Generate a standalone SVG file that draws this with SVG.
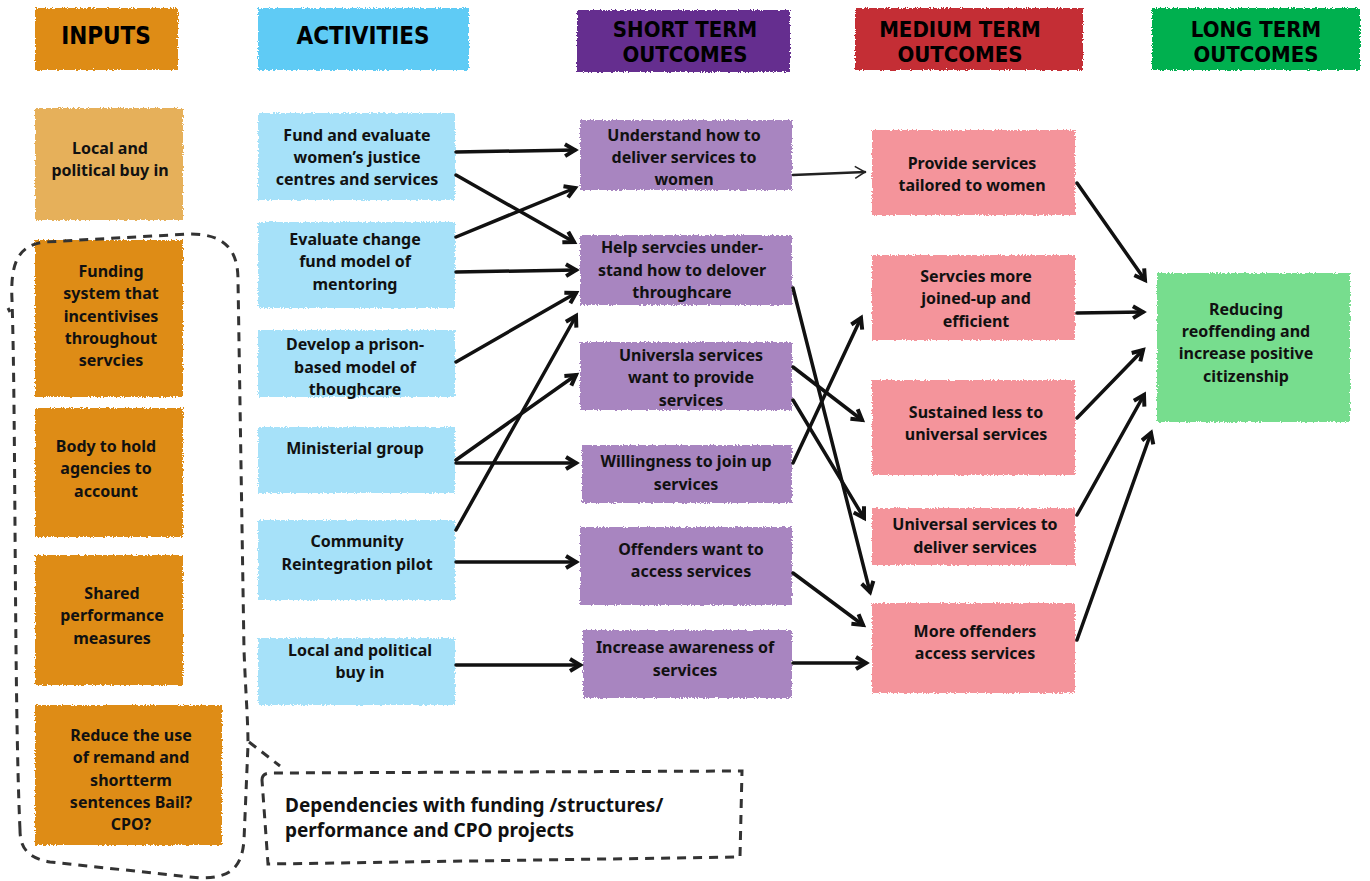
<svg xmlns="http://www.w3.org/2000/svg" width="1370" height="881" viewBox="0 0 1370 881">
<defs>
<filter id="rough" x="-5%" y="-5%" width="110%" height="110%">
<feTurbulence type="fractalNoise" baseFrequency="0.6" numOctaves="2" seed="3" result="n"/>
<feDisplacementMap in="SourceGraphic" in2="n" scale="4" xChannelSelector="R" yChannelSelector="G"/>
</filter>
<marker id="ah" markerUnits="userSpaceOnUse" markerWidth="18" markerHeight="18" refX="13" refY="8" orient="auto">
<path d="M3,2 L13,8 L3,14" fill="none" stroke="#111" stroke-width="4" stroke-linejoin="miter"/>
</marker>
<marker id="ahThin" markerUnits="userSpaceOnUse" markerWidth="18" markerHeight="18" refX="13" refY="8" orient="auto">
<path d="M3,2 L13,8 L3,14" fill="none" stroke="#222" stroke-width="1.5"/>
</marker>
</defs>
<style>
.hd{font-family:"DejaVu Sans Condensed","DejaVu Sans",sans-serif;font-weight:bold;font-size:24px;fill:#000;text-anchor:middle}
.hd2{font-family:"DejaVu Sans Condensed","DejaVu Sans",sans-serif;font-weight:bold;font-size:22px;fill:#000;text-anchor:middle}
.tx{font-family:"Noto Sans","Open Sans",sans-serif;font-weight:bold;font-size:16px;fill:#111;text-anchor:middle}
.dep{font-family:"Noto Sans","Open Sans",sans-serif;font-weight:bold;font-size:19px;fill:#111}
.box{filter:url(#rough)}
.inp{fill:#DE8C19}
.inpL{fill:#E6B05A}
.act{fill:#A6E1F9}
.st{fill:#A885C0}
.mt{fill:#F4949B}
.lt{fill:#77DD8E}
.ar{fill:none;stroke:#111;stroke-width:3.5;stroke-linecap:round;marker-end:url(#ah)}
.arThin{fill:none;stroke:#222;stroke-width:2.5;stroke-linecap:round;marker-end:url(#ahThin)}
.dash{fill:none;stroke:#333;stroke-width:3;stroke-dasharray:9,7}
</style>
<rect width="1370" height="881" fill="#fff"/>

<g id="headers">
<g id="h-inputs"><rect class="box" x="35" y="8" width="143" height="62" fill="#DE8C19"/><text class="hd" x="106" y="44">INPUTS</text></g>
<g id="h-activities"><rect class="box" x="258" y="8" width="211" height="62" fill="#5FCBF5"/><text class="hd" x="363" y="44">ACTIVITIES</text></g>
<g id="h-short"><rect class="box" x="577" y="10" width="213" height="62" fill="#652D8F"/><text class="hd2" x="685" y="37">SHORT TERM</text><text class="hd2" x="685" y="62">OUTCOMES</text></g>
<g id="h-medium"><rect class="box" x="855" y="8" width="228" height="62" fill="#C42D35"/><text class="hd2" x="960" y="37">MEDIUM TERM</text><text class="hd2" x="960" y="62">OUTCOMES</text></g>
<g id="h-long"><rect class="box" x="1152" y="8" width="208" height="62" fill="#00B050"/><text class="hd2" x="1256" y="37">LONG TERM</text><text class="hd2" x="1256" y="62">OUTCOMES</text></g>
</g>

<g id="in1"><rect class="box inpL" x="35" y="108" width="148" height="112"/><text class="tx" x="110" y="154">Local and</text><text class="tx" x="110" y="176">political buy in</text></g>
<g id="in2"><rect class="box inp" x="35" y="240" width="148" height="157"/><text class="tx" x="111" y="277">Funding</text><text class="tx" x="111" y="299">system that</text><text class="tx" x="111" y="322">incentivises</text><text class="tx" x="111" y="344">throughout</text><text class="tx" x="111" y="366">servcies</text></g>
<g id="in3"><rect class="box inp" x="35" y="408" width="148" height="129"/><text class="tx" x="106" y="452">Body  to hold</text><text class="tx" x="106" y="474">agencies to</text><text class="tx" x="106" y="497">account</text></g>
<g id="in4"><rect class="box inp" x="35" y="555" width="148" height="130"/><text class="tx" x="112" y="599">Shared</text><text class="tx" x="112" y="621">performance</text><text class="tx" x="112" y="644">measures</text></g>
<g id="in5"><rect class="box inp" x="35" y="705" width="187" height="140"/><text class="tx" x="131" y="741">Reduce the use</text><text class="tx" x="131" y="763">of remand and</text><text class="tx" x="131" y="786">shortterm</text><text class="tx" x="131" y="808">sentences Bail?</text><text class="tx" x="131" y="830">CPO?</text></g>

<g id="ac1"><rect class="box act" x="258" y="113" width="197" height="87"/><text class="tx" x="357" y="141">Fund and evaluate</text><text class="tx" x="357" y="163">women’s justice</text><text class="tx" x="357" y="185">centres and services</text></g>
<g id="ac2"><rect class="box act" x="258" y="222" width="197" height="86"/><text class="tx" x="355" y="245">Evaluate change</text><text class="tx" x="355" y="267">fund model of</text><text class="tx" x="355" y="290">mentoring</text></g>
<g id="ac3"><rect class="box act" x="258" y="330" width="197" height="67"/><text class="tx" x="355" y="350">Develop a prison-</text><text class="tx" x="355" y="373">based model of</text><text class="tx" x="355" y="395">thoughcare</text></g>
<g id="ac4"><rect class="box act" x="258" y="427" width="197" height="66"/><text class="tx" x="355" y="454">Ministerial group</text></g>
<g id="ac5"><rect class="box act" x="258" y="520" width="197" height="80"/><text class="tx" x="357" y="547">Community</text><text class="tx" x="357" y="570">Reintegration pilot</text></g>
<g id="ac6"><rect class="box act" x="258" y="638" width="197" height="67"/><text class="tx" x="360" y="656">Local and political</text><text class="tx" x="360" y="678">buy in</text></g>

<g id="st1"><rect class="box st" x="580" y="120" width="212" height="70"/><text class="tx" x="684" y="141">Understand how to</text><text class="tx" x="684" y="163">deliver services to</text><text class="tx" x="684" y="185">women</text></g>
<g id="st2"><rect class="box st" x="580" y="235" width="212" height="70"/><text class="tx" x="682" y="253">Help servcies under-</text><text class="tx" x="682" y="276">stand how to delover</text><text class="tx" x="682" y="298">throughcare</text></g>
<g id="st3"><rect class="box st" x="580" y="342" width="212" height="68"/><text class="tx" x="691" y="361">Universla services</text><text class="tx" x="691" y="383">want to provide</text><text class="tx" x="691" y="406">services</text></g>
<g id="st4"><rect class="box st" x="582" y="445" width="210" height="58"/><text class="tx" x="686" y="467">Willingness to join up</text><text class="tx" x="686" y="490">services</text></g>
<g id="st5"><rect class="box st" x="580" y="527" width="212" height="78"/><text class="tx" x="691" y="555">Offenders want to</text><text class="tx" x="691" y="577">access services</text></g>
<g id="st6"><rect class="box st" x="583" y="630" width="209" height="68"/><text class="tx" x="685" y="653">Increase awareness of</text><text class="tx" x="685" y="676">services</text></g>

<g id="mt1"><rect class="box mt" x="872" y="130" width="203" height="85"/><text class="tx" x="972" y="169">Provide services</text><text class="tx" x="972" y="191">tailored to women</text></g>
<g id="mt2"><rect class="box mt" x="872" y="255" width="203" height="85"/><text class="tx" x="976" y="282">Servcies more</text><text class="tx" x="976" y="304">joined-up and</text><text class="tx" x="976" y="327">efficient</text></g>
<g id="mt3"><rect class="box mt" x="872" y="380" width="203" height="95"/><text class="tx" x="976" y="418">Sustained less to</text><text class="tx" x="976" y="440">universal services</text></g>
<g id="mt4"><rect class="box mt" x="872" y="508" width="203" height="57"/><text class="tx" x="975" y="530">Universal services to</text><text class="tx" x="975" y="553">deliver services</text></g>
<g id="mt5"><rect class="box mt" x="872" y="603" width="203" height="90"/><text class="tx" x="975" y="637">More offenders</text><text class="tx" x="975" y="659">access services</text></g>

<g id="lt1"><rect class="box lt" x="1157" y="273" width="193" height="149"/><text class="tx" x="1246" y="315">Reducing</text><text class="tx" x="1246" y="337">reoffending and</text><text class="tx" x="1246" y="359">increase positive</text><text class="tx" x="1246" y="382">citizenship</text></g>

<g id="dependencies">
<path class="dash" d="M20,830 C14,700 16,420 12,300 C10,260 20,245 45,242 L190,234 C225,234 238,250 238,280 L244,650 C246,700 248,720 248,745 L244,840 C242,868 230,878 200,878 L50,862 C28,858 20,848 20,830 Z"/>
<path class="dash" d="M8,308 L10,312"/>
<path class="dash" d="M249,742 L280,766"/>
<path class="dash" d="M262,780 C262,774 266,773 272,773 L742,771 L740,857 L268,864 Z"/>
<text class="dep" x="285" y="812">Dependencies with funding /structures/</text>
<text class="dep" x="285" y="837">performance and CPO projects</text>
</g>

<g id="connectors">
<path class="ar" d="M456,152 L575,150"/>
<path class="ar" d="M456,175 L574,242"/>
<path class="ar" d="M456,237 L575,188"/>
<path class="ar" d="M456,272 L576,270"/>
<path class="ar" d="M456,362 L576,293"/>
<path class="ar" d="M456,530 L576,316"/>
<path class="ar" d="M456,460 L576,375"/>
<path class="ar" d="M456,463 L576,463"/>
<path class="ar" d="M456,562 L576,562"/>
<path class="ar" d="M456,665 L580,665"/>
<path class="arThin" d="M793,175 L865,172"/>
<path class="ar" d="M793,288 L870,592"/>
<path class="ar" d="M793,367 L862,420"/>
<path class="ar" d="M793,400 L864,518"/>
<path class="ar" d="M793,463 L861,318"/>
<path class="ar" d="M793,573 L863,625"/>
<path class="ar" d="M793,663 L866,663"/>
<path class="ar" d="M1077,183 L1145,280"/>
<path class="ar" d="M1077,313 L1143,312"/>
<path class="ar" d="M1077,418 L1143,350"/>
<path class="ar" d="M1077,515 L1144,395"/>
<path class="ar" d="M1077,640 L1151,433"/>
</g>
</svg>
